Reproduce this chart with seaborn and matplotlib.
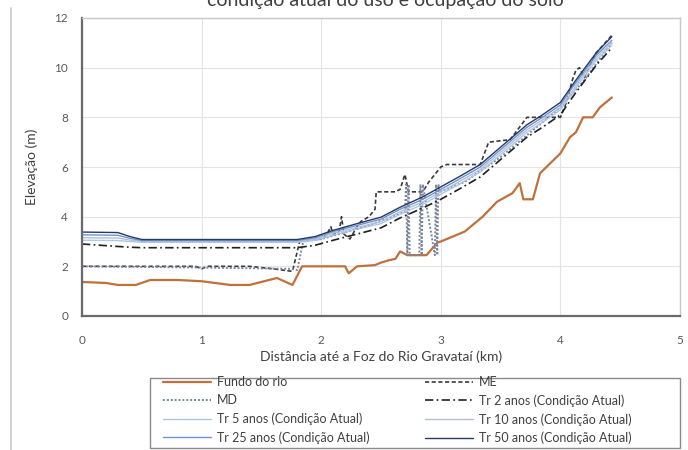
import matplotlib
matplotlib.use("Agg")
import matplotlib.pyplot as plt
from matplotlib.lines import Line2D
from matplotlib.patches import Rectangle
import seaborn as sns

# ---------------- dados ----------------
# fundo do rio
dist_fundo = [0, 0.2, 0.3, 0.45, 0.57, 0.8, 1.0, 1.24, 1.4, 1.63, 1.76, 1.84, 1.87, 2.2, 2.23,
              2.3, 2.45, 2.5, 2.57, 2.62, 2.66, 2.72, 2.88, 2.97, 3.0, 3.2, 3.35, 3.47, 3.6, 3.66,
              3.69, 3.77, 3.83, 4.0, 4.08, 4.13, 4.19, 4.27, 4.33, 4.43]
fundo = [1.37, 1.33, 1.25, 1.25, 1.45, 1.45, 1.4, 1.25, 1.25, 1.53, 1.25, 2.0, 2.0, 2.0, 1.72,
         2.0, 2.05, 2.15, 2.25, 2.3, 2.6, 2.45, 2.45, 2.95, 3.0, 3.4, 4.0, 4.6, 4.95, 5.35,
         4.7, 4.7, 5.75, 6.55, 7.2, 7.4, 8.0, 8.0, 8.4, 8.8]

# margem esquerda
dist_me = [0, 0.5, 0.95, 1.0, 1.05, 1.4, 1.6, 1.72, 1.76, 1.82, 1.9, 2.0, 2.05, 2.08, 2.1, 2.15,
           2.17, 2.19, 2.24, 2.3, 2.33, 2.4, 2.45, 2.46, 2.62, 2.66, 2.7, 2.73, 2.76, 2.85, 2.9,
           2.95, 3.0, 3.05, 3.33, 3.4, 3.58, 3.72, 4.0, 4.05, 4.1, 4.13, 4.16, 4.2, 4.3, 4.43]
me = [2.0, 2.0, 2.0, 1.9, 2.0, 2.0, 1.9, 1.82, 1.8, 3.0, 3.05, 3.1, 3.3, 3.6, 3.3, 3.4,
      4.0, 3.3, 3.1, 3.6, 3.8, 4.0, 4.3, 5.0, 5.0, 5.1, 5.7, 5.0, 5.0, 5.0, 5.4,
      5.7, 6.0, 6.1, 6.1, 7.0, 7.1, 8.0, 8.0, 8.6, 9.5, 9.9, 10.0, 9.6, 10.6, 11.3]

# margem direita
dist_md = [0, 1.0, 1.75, 1.8, 1.85, 2.0, 2.3, 2.6, 2.7, 2.71, 2.72, 2.73, 2.74, 2.82, 2.83,
           2.84, 2.85, 2.95, 2.96, 2.97, 2.98, 2.99, 3.2, 3.5, 3.8, 4.0, 4.2, 4.43]
md = [2.0, 1.95, 1.9, 1.85, 3.0, 3.1, 3.5, 4.0, 4.2, 5.3, 2.45, 5.3, 2.45, 2.45, 5.3,
      2.45, 5.3, 2.45, 5.3, 2.45, 5.3, 5.0, 5.4, 6.4, 7.6, 8.4, 9.5, 11.0]

# níveis d'água (condição atual)
dist_agua = [0, 0.3, 0.4, 0.5, 1.0, 1.8, 1.95, 2.1, 2.3, 2.5, 2.66, 2.85, 3.0, 3.15, 3.33, 3.5,
             3.72, 3.85, 4.0, 4.1, 4.16, 4.3, 4.43]
tr2 = [2.9, 2.8, 2.77, 2.75, 2.75, 2.75, 2.85, 3.05, 3.3, 3.55, 3.95, 4.35, 4.7, 5.1, 5.6, 6.3,
       7.2, 7.6, 8.1, 8.8, 9.2, 10.1, 10.8]
tr5 = [3.05, 3.04, 3.0, 2.97, 2.97, 2.97, 3.05, 3.25, 3.5, 3.72, 4.1, 4.5, 4.9, 5.3, 5.8, 6.5,
       7.4, 7.8, 8.3, 8.95, 9.4, 10.3, 10.9]
tr10 = [3.15, 3.14, 3.06, 3.0, 3.0, 3.0, 3.1, 3.33, 3.57, 3.8, 4.2, 4.6, 5.0, 5.4, 5.9, 6.6,
        7.5, 7.9, 8.4, 9.05, 9.5, 10.4, 11.0]
tr25 = [3.27, 3.25, 3.13, 3.04, 3.04, 3.04, 3.15, 3.4, 3.65, 3.9, 4.3, 4.7, 5.1, 5.5, 6.0, 6.7,
        7.6, 8.0, 8.5, 9.2, 9.6, 10.5, 11.1]
tr50 = [3.38, 3.36, 3.2, 3.08, 3.08, 3.08, 3.2, 3.45, 3.72, 3.98, 4.38, 4.8, 5.2, 5.6, 6.1, 6.8,
        7.7, 8.1, 8.6, 9.3, 9.7, 10.6, 11.25]

# ---------------- figura ----------------
sns.set_style("white")
plt.rcParams["font.family"] = ["Lato", "DejaVu Sans"]

fig = plt.figure(figsize=(6.88, 4.5), dpi=100)
ax = fig.add_axes([82 / 688, 134 / 450, 598 / 688, 298 / 450])

kw = dict(ax=ax, sort=False, estimator=None)
sns.lineplot(x=dist_fundo, y=fundo, color="#c0703c", linewidth=1.6, label="Fundo do rio", **kw)
sns.lineplot(x=dist_me, y=me, color="#3a3a3a", linewidth=1.2, linestyle=(0, (2.5, 1.5)), label="ME", **kw)
sns.lineplot(x=dist_md, y=md, color="#7a869c", linewidth=1.4, linestyle=(0, (1, 1)), label="MD", **kw)
sns.lineplot(x=dist_agua, y=tr2, color="#202020", linewidth=1.2, linestyle=(0, (5, 2, 1, 2)),
             label="Tr 2 anos (Condição Atual)", **kw)
sns.lineplot(x=dist_agua, y=tr5, color="#a9c8ea", linewidth=1.0, label="Tr 5 anos (Condição Atual)", **kw)
sns.lineplot(x=dist_agua, y=tr10, color="#b4bfd6", linewidth=1.0, label="Tr 10 anos (Condição Atual)", **kw)
sns.lineplot(x=dist_agua, y=tr25, color="#6f93cf", linewidth=1.0, label="Tr 25 anos (Condição Atual)", **kw)
sns.lineplot(x=dist_agua, y=tr50, color="#243a66", linewidth=1.0, label="Tr 50 anos (Condição Atual)", **kw)

ax.set_xlim(0, 5)
ax.set_ylim(0, 12)
ax.set_xticks([0, 1, 2, 3, 4, 5])
ax.set_yticks([0, 2, 4, 6, 8, 10, 12])
ax.grid(True, color="#e4e4e4", linewidth=0.8)
ax.set_axisbelow(True)
ax.tick_params(axis="both", length=0, labelsize=8.5, labelcolor="#595959")
ax.tick_params(axis="x", pad=14)
ax.tick_params(axis="y", pad=10)
for s in ["left", "bottom"]:
    ax.spines[s].set_color("#6a6a6a")
    ax.spines[s].set_linewidth(1.6)
for s in ["top", "right"]:
    ax.spines[s].set_color("#c8c8c8")
    ax.spines[s].set_linewidth(1.0)

ax.set_xlabel("Distância até a Foz do Rio Gravataí (km)", fontsize=10, color="#404040", labelpad=3)
ax.set_ylabel("Elevação (m)", fontsize=10, color="#404040", labelpad=12)

# legenda em 2 colunas (duas legendas para fixar a posição de cada coluna)
handles, labels = ax.get_legend_handles_labels()
ax.get_legend().remove()
leg_kw = dict(loc="upper left", fontsize=9, frameon=False, handlelength=3.8,
              borderaxespad=0, borderpad=0, labelspacing=0.5, handletextpad=0.55)
for cols, x0 in [([0, 2, 4, 6], 163), ([1, 3, 5, 7], 425)]:
    leg = fig.legend([handles[i] for i in cols], [labels[i] for i in cols],
                     bbox_to_anchor=(x0 / 688, 1 - 376 / 450), **leg_kw)
    for t in leg.get_texts():
        t.set_color("#404040")
fig.add_artist(Rectangle((150 / 688, 2 / 450), 530 / 688, 70 / 450, transform=fig.transFigure,
                         fill=False, edgecolor="#8a8a8a", linewidth=1.0))

# título cortado no topo
fig.text(385 / 688, 1 - 6 / 450, "condição atual do uso e ocupação do solo", ha="center",
         va="baseline", fontsize=14, color="#404040")
fig.add_artist(Line2D([11 / 688, 11 / 688], [0, 442 / 450], color="#c8c8c8", linewidth=1.2))

fig.savefig("out.png", dpi=100)
